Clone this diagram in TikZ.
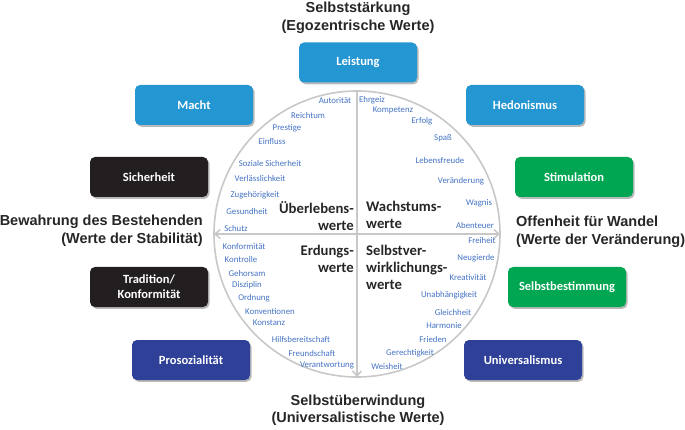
\documentclass[tikz,border=0pt]{standalone}
\usepackage{fontspec}
\setmainfont{Carlito}
\newfontfamily\hfont{Liberation Sans}
\usetikzlibrary{arrows.meta,shadows}
\definecolor{cblue}{RGB}{36,150,210}
\definecolor{cblack}{RGB}{35,31,32}
\definecolor{cgreen}{RGB}{0,166,81}
\definecolor{cnavy}{RGB}{46,64,152}
\definecolor{cword}{RGB}{68,114,196}
\definecolor{cgray}{RGB}{200,200,200}
\begin{document}
\begin{tikzpicture}[x=1pt,y=-1pt,
  valbox/.style={rounded corners=5pt, minimum width=118pt, minimum height=40pt, inner sep=0pt,
    text=white, font=\bfseries\fontsize{12.5}{15}\selectfont, align=center,
    drop shadow={shadow xshift=1.5pt, shadow yshift=-1.8pt, opacity=0.45, fill=black!60}},
  head/.style={font=\hfont\bfseries\fontsize{14.5}{17.5}\selectfont, text=black!85, inner sep=0pt},
  quad/.style={font=\bfseries\fontsize{14.7}{17}\selectfont, text=black!85, inner sep=0pt},
  word/.style={font=\fontsize{8.8}{10}\selectfont, text=cword, inner sep=0pt},
  axis/.style={cgray, line width=1.6pt, -{Straight Barb[length=5pt,width=9pt]}}
]
\useasboundingbox (0,0) rectangle (685,430);
% circle
\node[circle, draw=cgray, line width=1.6pt, minimum size=286pt, inner sep=0pt] (circ) at (357,234) {};
\coordinate (ctop) at (357,91);
\coordinate (cbot) at (357,377);
\coordinate (cleft) at (214,234);
\coordinate (cright) at (500,234);
\coordinate (cc) at (357,234);
\draw[axis] (ctop) -- (cbot);
\draw[axis] (cc) -- (cleft);
\draw[axis] (cc) -- (cright);
% headings
\node[head, align=center] (hTop) at (358,18) {Selbststärkung\\(Egozentrische Werte)};
\node[head, align=right, anchor=east] (hLeft) at (203,231) {Bewahrung des Bestehenden\\(Werte der Stabilität)};
\node[head, align=left, anchor=west] (hRight) at (516,232) {Offenheit für Wandel\\(Werte der Veränderung)};
\node[head, align=center] (hBot) at (358,410) {Selbstüberwindung\\(Universalistische Werte)};
% value boxes
\node[valbox, fill=cblue] (leistung) at (358,62.5) {Leistung};
\node[valbox, fill=cblue] (macht) at (194,105) {Macht};
\node[valbox, fill=cblue] (hedon) at (525,105) {Hedonismus};
\node[valbox, fill=cblack] (sicher) at (149,177) {Sicherheit};
\node[valbox, fill=cblack] (trad) at (149,287) {Tradition/\\Konformität};
\node[valbox, fill=cnavy] (proso) at (191,360) {Prosozialität};
\node[valbox, fill=cgreen] (stim) at (574,177) {Stimulation};
\node[valbox, fill=cgreen] (selbst) at (567,287) {Selbstbestimmung};
\node[valbox, fill=cnavy] (univ) at (523,360) {Universalismus};
% quadrant labels
\node[quad, align=right, anchor=north east] (qUL) at (354,201) {Überlebens-\\werte};
\node[quad, align=left, anchor=north west] (qUR) at (366,201) {Wachstums-\\werte};
\node[quad, align=right, anchor=north east] (qLL) at (354,245) {Erdungs-\\werte};
\node[quad, align=left, anchor=north west] (qLR) at (366,245) {Selbstver-\\wirklichungs-\\werte};
% words upper left
\node[word] (w1) at (335,101) {Autorität};
\node[word] (w2) at (308,115) {Reichtum};
\node[word] (w3) at (287,128) {Prestige};
\node[word] (w4) at (272,142) {Einfluss};
\node[word] (w5) at (270,163) {Soziale Sicherheit};
\node[word] (w6) at (260,178) {Verlässlichkeit};
\node[word] (w7) at (255,195) {Zugehörigkeit};
\node[word] (w8) at (247,211) {Gesundheit};
\node[word] (w9) at (236,228) {Schutz};
% words upper right
\node[word] (w10) at (372,100) {Ehrgeiz};
\node[word] (w11) at (393,110) {Kompetenz};
\node[word] (w12) at (422,121) {Erfolg};
\node[word] (w13) at (443,138) {Spaß};
\node[word] (w14) at (440,160) {Lebensfreude};
\node[word] (w15) at (461,181) {Veränderung};
\node[word] (w16) at (479,203) {Wagnis};
\node[word] (w17) at (475,225) {Abenteuer};
\node[word] (w18) at (482,240) {Freiheit};
% words lower right
\node[word] (w19) at (476,258) {Neugierde};
\node[word] (w20) at (468,277) {Kreativität};
\node[word] (w21) at (449,295) {Unabhängigkeit};
\node[word] (w22) at (453,312) {Gleichheit};
\node[word] (w23) at (444,326) {Harmonie};
\node[word] (w24) at (433,339) {Frieden};
\node[word] (w25) at (410,353) {Gerechtigkeit};
\node[word] (w26) at (387,366) {Weisheit};
% words lower left
\node[word] (w27) at (244,247) {Konformität};
\node[word] (w28) at (241,259) {Kontrolle};
\node[word] (w29) at (247,273) {Gehorsam};
\node[word] (w30) at (247,285) {Disziplin};
\node[word] (w31) at (254,298) {Ordnung};
\node[word] (w32) at (270,311) {Konventionen};
\node[word] (w33) at (269,323) {Konstanz};
\node[word] (w34) at (301,339) {Hilfsbereitschaft};
\node[word] (w35) at (312,353) {Freundschaft};
\node[word] (w36) at (327,365) {Verantwortung};
\end{tikzpicture}
\end{document}
